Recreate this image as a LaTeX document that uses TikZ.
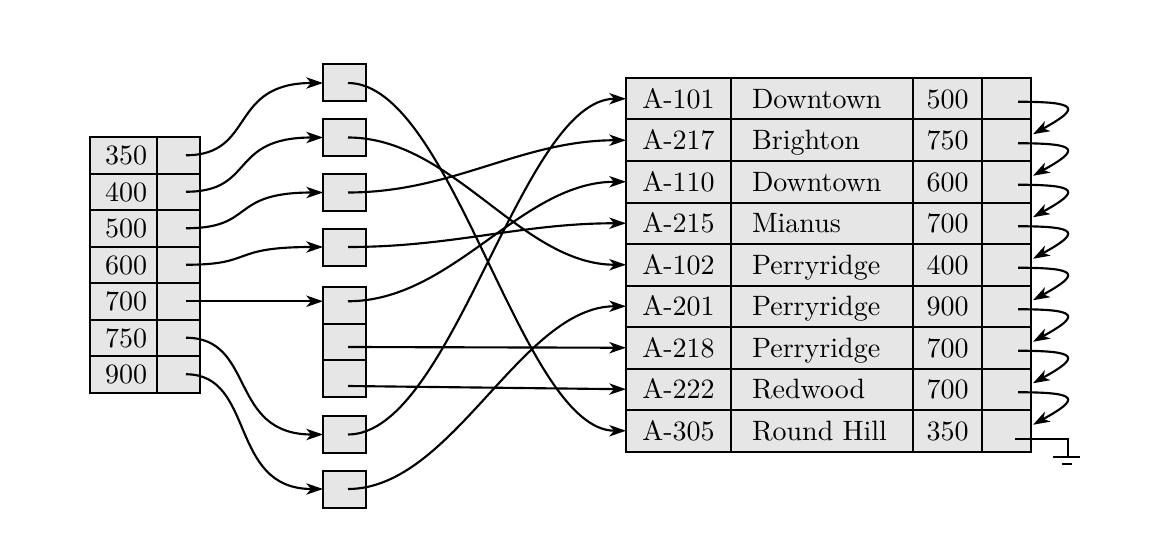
\documentclass[tikz,border=0pt]{standalone}
\usepackage{fontspec}
\newfontfamily\tabfont{lmroman10-regular.otf}
\usetikzlibrary{arrows.meta}
\definecolor{cellgray}{RGB}{230,230,230}
\tikzset{
  cell/.style={draw, fill=cellgray, line width=1.5pt, inner sep=0pt, outer sep=0pt,
    text height=14.35pt, text depth=0pt, font=\tabfont\fontsize{21}{25}\selectfont},
  keycell/.style={cell, minimum width=50.25pt, minimum height=27.375pt,
    text width=35.25pt, inner xsep=7.5pt, align=right},
  ptrcell/.style={cell, minimum width=32.25pt, minimum height=27.375pt},
  bucket/.style={cell, minimum width=32.25pt, minimum height=27.75pt},
  bucketcell/.style={cell, minimum width=32.25pt, minimum height=27.375pt},
  idcell/.style={cell, minimum width=78.75pt, minimum height=31.125pt},
  brcell/.style={cell, minimum width=136.5pt, minimum height=31.125pt,
    text width=105pt, inner xsep=15.75pt, align=left},
  balcell/.style={cell, minimum width=51.75pt, minimum height=31.125pt},
  nxtcell/.style={cell, minimum width=36.75pt, minimum height=31.125pt},
  link/.style={line width=1.6pt, -{Stealth[length=12.5pt,width=8.5pt,inset=3.5pt]}},
  wire/.style={line width=1.6pt},
}
\begin{document}
\begin{tikzpicture}[x=0.75pt,y=-0.75pt]
\useasboundingbox (0,0) rectangle (1157,535);

% left index table
\foreach \i/\k in {1/350,2/400,3/500,4/600,5/700,6/750,7/900}{
  \pgfmathsetmacro\cy{155.25+36.5*(\i-1)}
  \node[keycell] (lk\i) at (123.5,\cy) {\k};
  \node[ptrcell] (lc\i) at (178.5,\cy) {};
  \coordinate (lp\i) at (186,\cy);
}

% buckets
\node[bucket] (b1) at (344.5,83) {};
\node[bucket] (b2) at (344.5,137.5) {};
\node[bucket] (b3) at (344.5,192.5) {};
\node[bucket] (b4) at (344.5,247) {};
\node[bucketcell] (b5a) at (344.5,305.25) {};
\node[bucketcell] (b5b) at (344.5,341.75) {};
\node[bucketcell] (b5c) at (344.5,378.25) {};
\node[bucket] (b6) at (344.5,434.5) {};
\node[bucket] (b7) at (344.5,489) {};
\foreach \n/\y in {1/83,2/137.5,3/192.5,4/247,5a/301.25,5b/347,5c/386,6/434.5,7/489}{
  \coordinate (bp\n) at (348,\y);
}

% account table
\foreach \i/\id/\br/\bal in {1/A-101/Downtown/500,2/A-217/Brighton/750,3/A-110/Downtown/600,
  4/A-215/Mianus/700,5/A-102/Perryridge/400,6/A-201/Perryridge/900,7/A-218/Perryridge/700,
  8/A-222/Redwood/700,9/A-305/Round Hill/350}{
  \pgfmathsetmacro\cy{98.75+41.5*(\i-1)}
  \node[idcell] (ra\i) at (678.5,\cy) {\id};
  \node[brcell] (rb\i) at (822,\cy) {\br};
  \node[balcell] (rc\i) at (947.5,\cy) {\bal};
  \node[nxtcell] (rd\i) at (1006.5,\cy) {};
  \pgfmathsetmacro\sy{\cy+3}
  \coordinate (rp\i) at (1018,\sy);
  \pgfmathsetmacro\ty{\cy-6}
  \coordinate (rt\i) at (1033,\ty);
}

% index -> buckets
\foreach \a/\b in {1/1,2/2,3/3,4/4,6/6,7/7}{
  \draw[link] (lp\a) .. controls +(70,0) and +(-95,0) .. (b\b.west);
}
\draw[link] (lp5) -- (b5a.west |- lp5);

% buckets -> records
\foreach \a/\b in {1/9,2/5,3/2,4/4,5a/3,6/1,7/6}{
  \draw[link] (bp\a) .. controls +(105,0) and +(-105,0) .. (ra\b.west);
}
\draw[link] (bp5b) -- (ra7.west);
\draw[link] (bp5c) -- (ra8.west);

% record chain
\foreach \i [evaluate=\i as \j using int(\i+1)] in {1,...,8}{
  \draw[link] (rp\i) .. controls +(62,0) and +(47,-26) .. (rt\j);
}

% null pointer / ground
\coordinate (nl) at (1015,439);
\coordinate (gnd) at (1068,457);
\draw[wire] (nl) -| (gnd);
\draw[wire] (1053,457) -- (1080,457);
\draw[wire] (1062,464) -- (1072,464);
\end{tikzpicture}
\end{document}
